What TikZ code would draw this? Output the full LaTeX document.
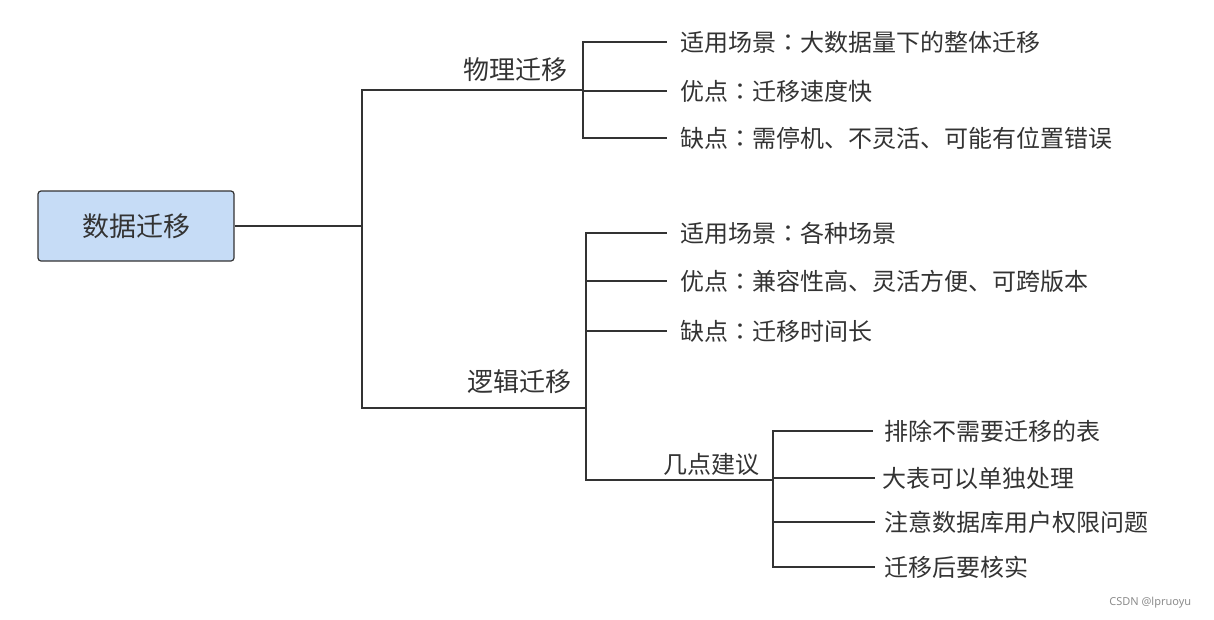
\documentclass[tikz,border=0pt]{standalone}
\usepackage{fontspec}
\setmainfont{Noto Sans CJK SC}
\newfontfamily\marksans{Noto Sans}
\newfontfamily\tcfont{Noto Sans CJK TC}
\newcommand{\midcolon}{{\tcfont ：}}
\definecolor{rootblue}{HTML}{C6DCF6}
\definecolor{inkgray}{HTML}{333333}

\begin{document}
\begin{tikzpicture}[x=1pt,y=-1pt,line width=1.5pt,
    root/.style={draw=inkgray,fill=rootblue,rounded corners=3pt,line width=1.2pt,
      minimum width=196pt,minimum height=70pt,text=inkgray,font=\fontsize{27}{30}\selectfont},
    topic/.style={anchor=east,inner sep=0pt,text=inkgray,font=\fontsize{26}{30}\selectfont},
    subtopic/.style={anchor=east,inner sep=0pt,text=inkgray,font=\fontsize{24}{28}\selectfont},
    leaf/.style={anchor=west,inner xsep=13pt,inner ysep=0pt,text=inkgray,font=\fontsize{24}{28}\selectfont}]
        \useasboundingbox (0,0) rectangle (1214,619);
        % root and junctions
        \node[root] (migrate) at (136,226) {数据迁移};
        \coordinate (trunk) at (362,226);
        \coordinate (phys) at (583,90);
        \coordinate (logic) at (586,408);
        \coordinate (advice) at (773,480);
        \draw[inkgray] (migrate) -- (trunk);
        \draw[inkgray] (trunk) |- (phys);
        \draw[inkgray] (trunk) |- (logic);
        \draw[inkgray] (logic) |- (advice);
        % branch labels
        \node[topic] (physlabel) at (568,70) {物理迁移};
        \node[topic] (logiclabel) at (572,382) {逻辑迁移};
        \node[subtopic] (advicelabel) at (760,464) {几点建议};
        % physical migration
        \node[leaf] (p1) at (667,42) {适用场景\midcolon 大数据量下的整体迁移};
        \node[leaf] (p2) at (667,91) {优点\midcolon 迁移速度快};
        \node[leaf] (p3) at (667,138) {缺点\midcolon 需停机、不灵活、可能有位置错误};
        \foreach \n in {p1,p2,p3}
          \draw[inkgray] (phys) |- (\n);
        % logical migration
        \node[leaf] (l1) at (667,233) {适用场景\midcolon 各种场景};
        \node[leaf] (l2) at (667,281) {优点\midcolon 兼容性高、灵活方便、可跨版本};
        \node[leaf] (l3) at (667,331) {缺点\midcolon 迁移时间长};
        \foreach \n in {l1,l2,l3}
          \draw[inkgray] (logic) |- (\n);
        % advice
        \node[leaf,inner xsep=11pt] (a1) at (873,431) {排除不需要迁移的表};
        \node[leaf,inner xsep=7pt] (a2) at (875,478) {大表可以单独处理};
        \node[leaf,inner xsep=9pt] (a3) at (875,522) {注意数据库用户权限问题};
        \node[leaf,inner xsep=9pt] (a4) at (875,567) {迁移后要核实};
        \foreach \n in {a1,a2,a3,a4}
          \draw[inkgray] (advice) |- (\n);
        % watermark
        \node[anchor=east,inner sep=0pt,text=black!45,font=\marksans\fontsize{11}{13}\selectfont] (mark) at (1192,603) {CSDN @lpruoyu};
\end{tikzpicture}
\end{document}
